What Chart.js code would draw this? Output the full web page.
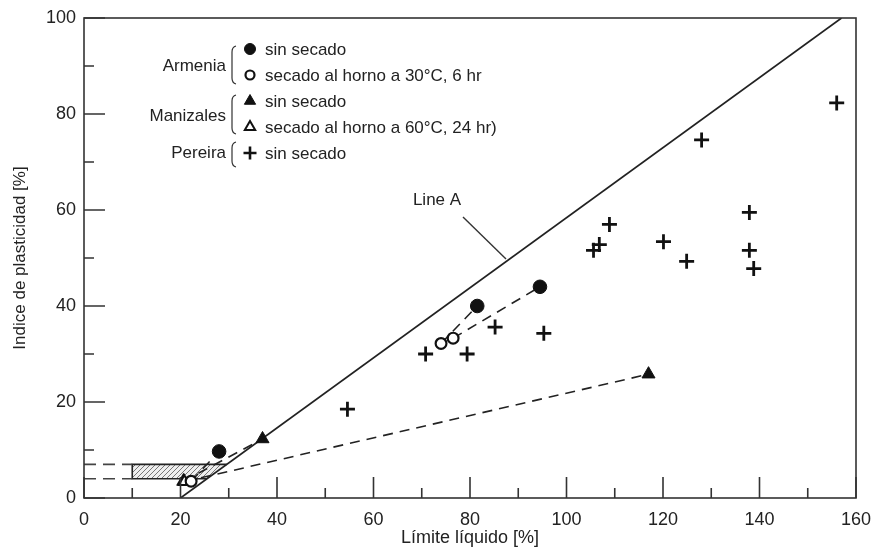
<!DOCTYPE html>
<html>
<head>
<meta charset="utf-8">
<script src="https://cdn.jsdelivr.net/npm/chart.js@4.4.1/dist/chart.umd.min.js"></script>
<style>
  html, body { margin: 0; padding: 0; background: #fff; }
  canvas { display: block; }
</style>
</head>
<body>
<canvas id="plasticityChart" width="872" height="549"></canvas>
<script>
// Limite liquido (LL) vs indice de plasticidad (PI)
const armeniaWetLL = [28, 81.5, 94.5];
const armeniaWetPI = [9.7, 40, 44];
const armeniaDryLL = [22.2, 74, 76.5];
const armeniaDryPI = [3.5, 32.2, 33.3];

const manizalesWetLL = [37, 117];
const manizalesWetPI = [12.3, 25.8];
const manizalesDryLL = [20.6, 20.8];
const manizalesDryPI = [3.5, 3.4];

const pereiraLL = [54.6, 70.8, 79.4, 85.2, 95.3, 105.6, 106.8, 108.9, 120.1, 124.9, 128, 137.9, 137.9, 138.8, 156];
const pereiraPI = [18.5, 30, 30, 35.6, 34.3, 51.6, 52.8, 57, 53.4, 49.3, 74.6, 59.5, 51.6, 47.8, 82.3];

const lineALL = [20, 157];
const lineAPI = [0, 100];

// hatched CL-ML band and its dashed guides
const bandLL = [10, 10, 29.6, 25.5];
const bandPI = [4, 7, 7, 4];
const guideLL = [0, 10];
const guidePI = [4, 7];

const FONT = "'Liberation Sans', Arial, sans-serif";
const INK = '#111';

function pts(xs, ys) {
    return xs.map((x, i) => ({ x: x, y: ys[i] }));
}

// dashed link from each dried sample to its undried pair
function links(dryX, dryY, wetX, wetY) {
    return dryX.map((x, i) => ({
        type: 'line',
        data: [{ x: x, y: dryY[i] }, { x: wetX[i], y: wetY[i] }],
        borderColor: '#222',
        borderWidth: 1.6,
        borderDash: [10, 7],
        pointRadius: 0,
        fill: false,
        order: 5
    }));
}

const guides = guidePI.map(pi => ({
    type: 'line',
    data: [{ x: guideLL[0], y: pi }, { x: guideLL[1], y: pi }],
    borderColor: '#444',
    borderWidth: 1.6,
    borderDash: [12, 7],
    pointRadius: 0,
    fill: false,
    order: 6
}));

// hatch pattern
const pat = document.createElement('canvas');
pat.width = 5; pat.height = 5;
const pctx = pat.getContext('2d');
pctx.fillStyle = '#eeeeee';
pctx.fillRect(0, 0, 5, 5);
pctx.strokeStyle = '#777';
pctx.lineWidth = 1;
pctx.beginPath();
pctx.moveTo(0, 5); pctx.lineTo(5, 0);
pctx.moveTo(-2.5, 2.5); pctx.lineTo(2.5, -2.5);
pctx.moveTo(2.5, 7.5); pctx.lineTo(7.5, 2.5);
pctx.stroke();

const bandPlugin = {
    id: 'band',
    beforeDatasetsDraw(chart) {
        const { ctx, scales: { x, y } } = chart;
        const p = bandLL.map((v, i) => [x.getPixelForValue(v), y.getPixelForValue(bandPI[i])]);
        ctx.save();
        ctx.beginPath();
        ctx.moveTo(p[0][0], p[0][1]);
        for (let i = 1; i < p.length; i++) ctx.lineTo(p[i][0], p[i][1]);
        ctx.closePath();
        ctx.fillStyle = ctx.createPattern(pat, 'repeat');
        ctx.fill();
        ctx.strokeStyle = '#222';
        ctx.lineWidth = 1.6;
        ctx.beginPath();
        ctx.moveTo(p[3][0], p[3][1]);
        ctx.lineTo(p[0][0], p[0][1]);
        ctx.lineTo(p[1][0], p[1][1]);
        ctx.lineTo(p[2][0], p[2][1]);
        ctx.stroke();
        ctx.restore();
    }
};

const framePlugin = {
    id: 'frame',
    afterDatasetsDraw(chart) {
        const { ctx, chartArea: a, scales: { x, y } } = chart;
        ctx.save();
        ctx.strokeStyle = '#333';
        ctx.lineWidth = 1.6;
        ctx.strokeRect(a.left, a.top, a.right - a.left, a.bottom - a.top);
        ctx.beginPath();
        for (let v = 0; v <= 160; v += 10) {
            const px = x.getPixelForValue(v);
            const len = v % 20 === 0 ? 21 : 10;
            ctx.moveTo(px, a.bottom);
            ctx.lineTo(px, a.bottom - len);
        }
        for (let v = 0; v <= 100; v += 10) {
            const py = y.getPixelForValue(v);
            const len = v % 20 === 0 ? 21 : 10;
            ctx.moveTo(a.left, py);
            ctx.lineTo(a.left + len, py);
        }
        ctx.stroke();
        ctx.restore();
    }
};

function brace(ctx, bx, top, bottom) {
    ctx.beginPath();
    ctx.moveTo(bx + 4, top);
    ctx.quadraticCurveTo(bx, top + 1, bx, top + 6);
    ctx.lineTo(bx, bottom - 6);
    ctx.quadraticCurveTo(bx, bottom - 1, bx + 4, bottom);
    ctx.stroke();
}

const notesPlugin = {
    id: 'notes',
    afterDraw(chart) {
        const ctx = chart.ctx;
        ctx.save();
        ctx.font = '17px ' + FONT;
        ctx.fillStyle = '#222';
        ctx.textBaseline = 'middle';

        // group labels
        ctx.textAlign = 'right';
        ctx.fillText('Armenia', 226, 66);
        ctx.fillText('Manizales', 226, 116);
        ctx.fillText('Pereira', 226, 153);

        ctx.strokeStyle = '#333';
        ctx.lineWidth = 1.2;
        brace(ctx, 232, 46, 84);
        brace(ctx, 232, 95, 134);
        brace(ctx, 232, 142, 167);

        const rows = [
            { y: 49, text: 'sin secado', style: 'circle', fill: INK, r: 5.5, bw: 1 },
            { y: 75, text: 'secado al horno a 30\u00b0C, 6 hr', style: 'circle', fill: '#fff', r: 4.5, bw: 2.2 },
            { y: 101, text: 'sin secado', style: 'triangle', fill: INK, r: 6.5, bw: 1 },
            { y: 127, text: 'secado al horno a 60\u00b0C, 24 hr)', style: 'triangle', fill: '#fff', r: 6, bw: 2 },
            { y: 153, text: 'sin secado', style: 'cross', fill: INK, r: 6.5, bw: 2.6 }
        ];
        ctx.textAlign = 'left';
        rows.forEach(row => {
            ctx.fillStyle = row.fill;
            ctx.strokeStyle = INK;
            ctx.lineWidth = row.bw;
            Chart.helpers.drawPoint(ctx, { pointStyle: row.style, radius: row.r, rotation: 0, borderWidth: row.bw }, 250, row.y);
            ctx.fillStyle = '#222';
            ctx.fillText(row.text, 265, row.y + 1);
        });

        // Line A label with leader
        ctx.textAlign = 'center';
        ctx.fillText('Line A', 437, 200);
        ctx.strokeStyle = '#333';
        ctx.lineWidth = 1.4;
        ctx.beginPath();
        ctx.moveTo(463, 217);
        ctx.lineTo(506, 259);
        ctx.stroke();
        ctx.restore();
    }
};

const ctx = document.getElementById('plasticityChart').getContext('2d');
new Chart(ctx, {
    type: 'scatter',
    data: {
        datasets: [
            {
                label: 'Armenia sin secado',
                data: pts(armeniaWetLL, armeniaWetPI),
                pointStyle: 'circle',
                pointRadius: 6.8,
                backgroundColor: INK,
                borderColor: INK,
                borderWidth: 1,
                order: 1
            },
            {
                label: 'Armenia secado al horno a 30°C, 6 hr',
                data: pts(armeniaDryLL, armeniaDryPI),
                pointStyle: 'circle',
                pointRadius: 5.4,
                backgroundColor: '#fff',
                borderColor: INK,
                borderWidth: 2.2,
                order: 1
            },
            {
                label: 'Manizales sin secado',
                data: pts(manizalesWetLL, manizalesWetPI),
                pointStyle: 'triangle',
                pointRadius: 7.5,
                backgroundColor: INK,
                borderColor: INK,
                borderWidth: 1,
                order: 1
            },
            {
                label: 'Manizales secado al horno a 60°C, 24 hr',
                data: pts(manizalesDryLL, manizalesDryPI),
                pointStyle: 'triangle',
                pointRadius: 6.5,
                backgroundColor: '#fff',
                borderColor: INK,
                borderWidth: 2,
                order: 1
            },
            {
                label: 'Pereira sin secado',
                data: pts(pereiraLL, pereiraPI),
                pointStyle: 'cross',
                pointRadius: 7.5,
                borderColor: INK,
                borderWidth: 2.8,
                order: 1
            },
            {
                type: 'line',
                label: 'Line A',
                data: pts(lineALL, lineAPI),
                borderColor: '#222',
                borderWidth: 1.7,
                pointRadius: 0,
                fill: false,
                order: 4
            },
            ...links(armeniaDryLL, armeniaDryPI, armeniaWetLL, armeniaWetPI),
            ...links(manizalesDryLL, manizalesDryPI, manizalesWetLL, manizalesWetPI),
            ...guides
        ]
    },
    options: {
        responsive: false,
        animation: false,
        events: [],
        layout: { padding: { top: 18, right: 16, left: 0, bottom: 0 } },
        plugins: {
            legend: { display: false },
            tooltip: { enabled: false }
        },
        scales: {
            x: {
                type: 'linear',
                min: 0,
                max: 160,
                afterFit: function(scale) {
                    scale.height = 51;
                    scale.paddingLeft = 0;
                    scale.paddingRight = 0;
                },
                grid: { display: false, drawTicks: false },
                border: { display: false },
                ticks: {
                    stepSize: 20,
                    padding: 11,
                    color: '#222',
                    font: { family: FONT, size: 18 },
                    maxRotation: 0
                },
                title: {
                    display: true,
                    text: 'L\u00edmite l\u00edquido [%]',
                    color: '#222',
                    font: { family: FONT, size: 18 },
                    padding: { top: 0, bottom: 0 }
                }
            },
            y: {
                type: 'linear',
                min: 0,
                max: 100,
                afterFit: function(scale) {
                    scale.width = 84;
                    scale.paddingTop = 0;
                    scale.paddingBottom = 0;
                },
                grid: { display: false, drawTicks: false },
                border: { display: false },
                ticks: {
                    stepSize: 20,
                    padding: 8,
                    color: '#222',
                    font: { family: FONT, size: 18 }
                },
                title: {
                    display: true,
                    text: 'Indice de plasticidad [%]',
                    color: '#222',
                    font: { family: FONT, size: 17 },
                    padding: { top: 10, bottom: 0 }
                }
            }
        }
    },
    plugins: [bandPlugin, framePlugin, notesPlugin]
});
</script>
</body>
</html>
